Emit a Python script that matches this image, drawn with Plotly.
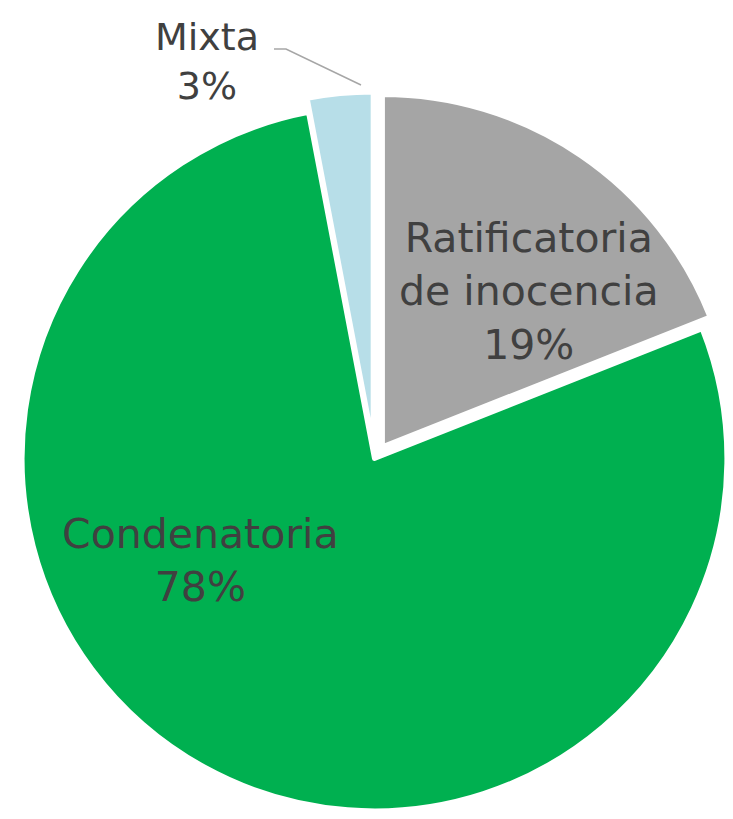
import plotly.graph_objects as go

W, H = 733, 819

categorias = ["Ratificatoria de inocencia", "Condenatoria", "Mixta"]
textos = ["Ratificatoria<br>de inocencia", "Condenatoria", "Mixta"]
porcentajes = [19, 78, 3]
colores = ["#A5A5A5", "#00B050", "#B7DEE8"]
separacion = [0.04, 0, 0.04]

# centro de cada etiqueta en pixeles (x, y desde arriba)
pos_etiquetas = [(521, 283), (192, 552), (199, 54)]


def px(x, y):
    return x / W, 1 - y / H


fig = go.Figure()
fig.add_trace(go.Pie(
    labels=categorias,
    values=porcentajes,
    marker=dict(colors=colores, line=dict(color="white", width=5)),
    pull=separacion,
    sort=False,
    direction="clockwise",
    rotation=0,
    textinfo="none",
    hoverinfo="label+percent",
    showlegend=False,
    domain=dict(x=[0, 1], y=[0, 0.9]),
))

for i, (txt, val, (x, y)) in enumerate(zip(textos, porcentajes, pos_etiquetas)):
    ax, ay = px(x, y)
    fig.add_annotation(
        x=ax, y=ay, xref="paper", yref="paper",
        text=f"{txt}<br>{val}%", showarrow=False,
        xanchor="center", yanchor="middle",
        font=dict(family="DejaVu Sans", size=38 if i == 2 else 41, color="#404040"),
    )

# linea guia de "Mixta"
x0, y0 = px(266, 41)
x1, y1 = px(278, 41)
x2, y2 = px(353, 77)
fig.add_shape(type="path", xref="paper", yref="paper",
              path=f"M {x0} {y0} L {x1} {y1} L {x2} {y2}",
              line=dict(color="#A6A6A6", width=1.5))

fig.update_layout(
    width=W, height=H,
    margin=dict(t=0, b=0, l=0, r=0),
    paper_bgcolor="white",
    plot_bgcolor="white",
)

fig.write_html("out.html")
